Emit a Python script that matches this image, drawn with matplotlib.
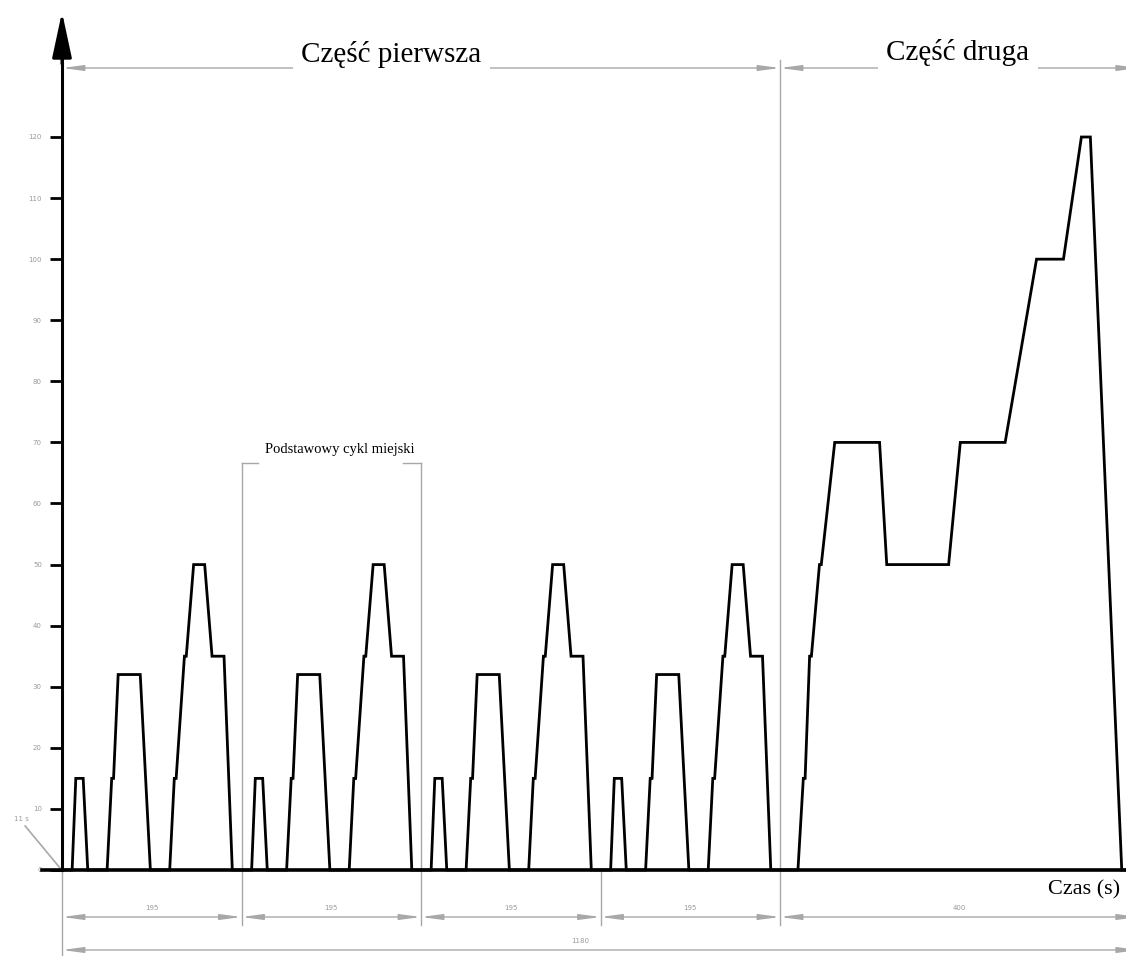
import numpy as np
import matplotlib
matplotlib.use("Agg")
import matplotlib.pyplot as plt

# ---------------- data (NEDC cycle as drawn) ----------------
# Basic urban cycle (ECE-15), times in s relative to cycle start, speed in km/h
ece_t = [0, 11, 15, 23, 28, 49, 54, 56, 61, 85, 96, 117, 122, 124, 133, 135,
         143, 155, 163, 176, 185, 195]
ece_v = [0, 0, 15, 15, 0, 0, 15, 15, 32, 32, 0, 0, 15, 15, 35, 35,
         50, 50, 35, 35, 0, 0]
ece_starts = [0, 195, 390, 585]
# Extra-urban cycle (EUDC), times relative to its start
eudc_start = 780
eudc_t = [0, 20, 26, 28, 33, 35, 44, 46, 61, 111, 119, 188, 201, 251, 286,
          316, 336, 346, 381, 400]
eudc_v = [0, 0, 15, 15, 35, 35, 50, 50, 70, 70, 50, 50, 70, 70, 100,
          100, 120, 120, 0, 0]

y_ticks = list(range(0, 121, 10))
segment_lengths = [195, 195, 195, 195, 400]
total_length = 1180
part_labels = ["Część pierwsza", "Część druga"]
urban_label = "Podstawowy cykl miejski"
x_label = "Czas (s)"
idle_label = "11 s"

# assemble series
t_all, v_all = [], []
for s in ece_starts:
    t_all += [s + t for t in ece_t]
    v_all += ece_v
t_all += [eudc_start + t for t in eudc_t]
v_all += eudc_v
t_all = np.array(t_all, float)
v_all = np.array(v_all, float)

# ---------------- figure ----------------
W, H = 1126, 956
fig = plt.figure(figsize=(W / 100, H / 100), dpi=100)
ax = fig.add_axes([0, 0, 1, 1])
ax.patch.set_alpha(0)

A = 718 / 780.0   # px per second (first part)
B = 0.897         # px per second (second part)

def fwd(t):
    t = np.asarray(t, float)
    return np.where(t <= 780, t * A, 780 * A + (t - 780) * B)

def inv(p):
    p = np.asarray(p, float)
    return np.where(p <= 780 * A, p / A, 780 + (p - 780 * A) / B)

ax.set_xscale("function", functions=(fwd, inv))
x_left = -62 / A
x_right = float(inv(W - 62))
ax.set_xlim(x_left, x_right)
PY = 733 / 120.0
ax.set_ylim(-(H - 870) / PY, 870 / PY)

grey = "#a8a8a8"
serif = ["Liberation Serif", "DejaVu Serif"]

# data line
ax.plot(t_all, v_all, color="black", lw=2.0, solid_joinstyle="miter", zorder=5,
        clip_on=True)

# spines / axes
for s in ["top", "right"]:
    ax.spines[s].set_visible(False)
ax.spines["left"].set_position(("data", 0))
ax.spines["left"].set_bounds(0, 138)
ax.spines["left"].set_linewidth(2.2)
ax.spines["bottom"].set_position(("data", 0))
ax.spines["bottom"].set_bounds(-20 / A, x_right)
ax.spines["bottom"].set_linewidth(2.6)
ax.set_xticks([])
ax.set_yticks(y_ticks)
ax.set_yticklabels([str(v) for v in y_ticks])
ax.tick_params(axis="y", direction="out", length=8.5, width=2, color="black",
               labelsize=5, labelcolor="#9a9a9a", pad=6)

# y-axis arrow
ax.annotate("", xy=(0, 870 / PY - 12 / PY), xytext=(0, 132),
            arrowprops=dict(arrowstyle="-|>,head_length=1.4,head_width=0.3",
                            mutation_scale=20, color="black", lw=2.2,
                            shrinkA=0, shrinkB=0))

# extension (grey) lines
y_dim1 = -47 / PY
y_dim2 = -80 / PY
y_ext_bot = -55 / PY
y_top_dim = (870 - 68) / PY
ax.plot([0, 0], [0, -(H - 870) / PY], color=grey, lw=1)
ax.plot([780, 780], [(870 - 60) / PY, y_ext_bot], color=grey, lw=1)
y_br = (870 - 463) / PY
for xb, dx in [(195, 18), (390, -20)]:
    ax.plot([xb, xb], [y_br, y_ext_bot], color=grey, lw=1)
    ax.plot([xb, xb + dx], [y_br, y_br], color=grey, lw=1)
ax.plot([585, 585], [0, y_ext_bot], color=grey, lw=1)

def dim(x0, x1, y):
    ax.annotate("", xy=(x0, y), xytext=(x1, y),
                arrowprops=dict(arrowstyle="<|-|>,head_length=0.9,head_width=0.12",
                                mutation_scale=14, color=grey, lw=1,
                                shrinkA=0, shrinkB=0))

# top dimension line with part labels
dim(0, 780, y_top_dim)
dim(780, 1180, y_top_dim)
ax.text(358, y_top_dim + 2.2, part_labels[0], ha="center", va="center",
        fontsize=21, family=serif, zorder=6,
        bbox=dict(facecolor="white", edgecolor="none", pad=6))
ax.text(float(inv(958 - 62)), y_top_dim + 2.6, part_labels[1], ha="center",
        va="center", fontsize=21, family=serif, zorder=6,
        bbox=dict(facecolor="white", edgecolor="none", pad=6))

# urban cycle label
ax.text(220, (870 - 450) / PY, urban_label, ha="left", va="center",
        fontsize=10.5, family=serif)

# bottom dimension lines
x0 = 0
for L in segment_lengths:
    dim(x0, x0 + L, y_dim1)
    ax.text(float(inv((fwd(x0) + fwd(x0 + L)) / 2)), y_dim1 + 1.0, str(L),
            ha="center", va="bottom", fontsize=5, color="#9a9a9a")
    x0 += L
dim(0, total_length, y_dim2)
ax.text(float(inv((fwd(0) + fwd(total_length)) / 2 - 20)), y_dim2 + 1.0,
        str(total_length), ha="center", va="bottom", fontsize=5, color="#9a9a9a")

# x label
ax.text(float(inv(1120 - 62)), -20 / PY, x_label, ha="right", va="center",
        fontsize=16, family=serif)

# idle label with leader
ax.plot([-40, -2], [7.2, 0.3], color=grey, lw=1.2)
ax.text(-44, 8.3, idle_label, ha="center", va="center", fontsize=5,
        color="#9a9a9a")

fig.savefig("out.png", dpi=100)
